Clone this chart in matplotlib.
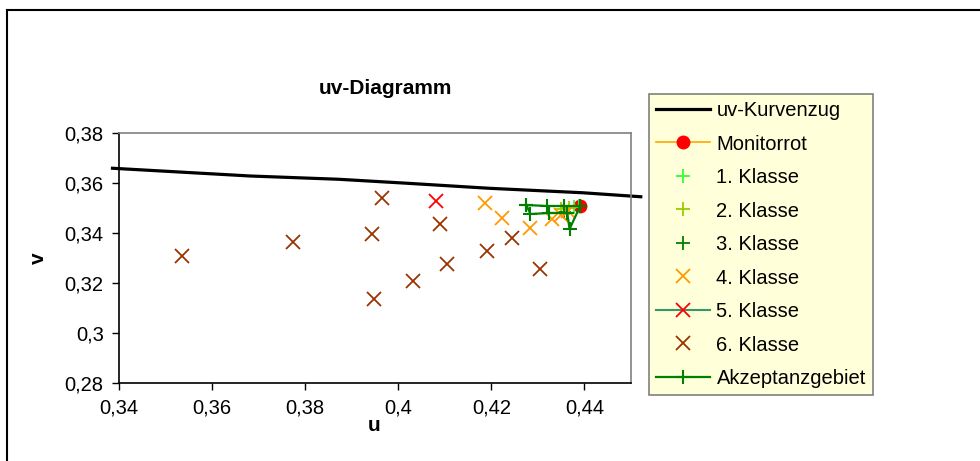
import matplotlib
matplotlib.use("Agg")
import matplotlib.pyplot as plt
from matplotlib.lines import Line2D

plt.rcParams['font.family'] = ['Liberation Sans', 'DejaVu Sans']

# uv-Kurvenzug
kurve_u = [0.3386, 0.3682, 0.3871, 0.4019, 0.4194, 0.4396, 0.4521]
kurve_v = [0.3659, 0.3628, 0.3615, 0.3599, 0.3579, 0.3561, 0.3545]

monitor_u = [0.4391]
monitor_v = [0.3508]

k1_u = [0.4378, 0.4389]
k1_v = [0.3504, 0.3508]
k2_u = [0.4366, 0.4350]
k2_v = [0.3500, 0.3496]
k3_u = [0.4355, 0.4368]
k3_v = [0.3484, 0.3416]
k4_u = [0.4187, 0.4223, 0.4284, 0.4331, 0.4350, 0.4365]
k4_v = [0.3520, 0.3460, 0.3420, 0.3456, 0.3472, 0.3488]
k5_u = [0.4081]
k5_v = [0.3528]
k6_u = [0.3536, 0.3773, 0.3943, 0.3947, 0.3965, 0.4031, 0.4090, 0.4105, 0.4190, 0.4245, 0.4305]
k6_v = [0.3308, 0.3364, 0.3396, 0.3136, 0.3540, 0.3208, 0.3436, 0.3276, 0.3330, 0.3380, 0.3256]

akz_u = [0.4275, 0.4320, 0.4357, 0.4391, 0.4368, 0.4363, 0.4324, 0.4284, 0.4275]
akz_v = [0.3512, 0.3508, 0.3508, 0.3508, 0.3416, 0.3480, 0.3480, 0.3476, 0.3512]

x_ticks = [0.34, 0.36, 0.38, 0.40, 0.42, 0.44]
x_labels = ['0,34', '0,36', '0,38', '0,4', '0,42', '0,44']
y_ticks = [0.28, 0.30, 0.32, 0.34, 0.36, 0.38]
y_labels = ['0,28', '0,3', '0,32', '0,34', '0,36', '0,38']

fig = plt.figure(figsize=(9.8, 4.61), dpi=100)
ax = fig.add_axes([119 / 980, 78 / 461, 512 / 980, 250 / 461])

h0, = ax.plot(kurve_u, kurve_v, color='black', lw=2.3, clip_on=False, label='uv-Kurvenzug')
h1, = ax.plot(monitor_u, monitor_v, color='#FFA500', lw=1.2, marker='o', ms=9,
              mfc='red', mec='red', label='Monitorrot')
h2, = ax.plot(k1_u, k1_v, ls='none', marker='+', ms=10, mew=1.3, color='#33FF33', label='1. Klasse')
h3, = ax.plot(k2_u, k2_v, ls='none', marker='+', ms=10, mew=1.3, color='#99CC00', label='2. Klasse')
h4, = ax.plot(k3_u, k3_v, ls='none', marker='+', ms=10, mew=1.3, color='#008000', label='3. Klasse')
h5, = ax.plot(k4_u, k4_v, ls='none', marker='x', ms=10, mew=1.3, color='#FF9900', label='4. Klasse')
h6, = ax.plot(k5_u, k5_v, color='#339966', lw=1.5, marker='x', ms=10, mew=1.3,
              mec='red', label='5. Klasse')
h7, = ax.plot(k6_u, k6_v, ls='none', marker='x', ms=10, mew=1.3, color='#993300', label='6. Klasse')
h8, = ax.plot(akz_u, akz_v, color='#008000', lw=1.6, marker='+', ms=10, mew=1.5,
              label='Akzeptanzgebiet')

ax.set_xlim(0.34, 0.45)
ax.set_ylim(0.28, 0.38)
ax.set_xticks(x_ticks)
ax.set_xticklabels(x_labels)
ax.set_yticks(y_ticks)
ax.set_yticklabels(y_labels)
ax.tick_params(axis='both', direction='out', length=5, width=1, labelsize=14.5, pad=6, color='black')

for s in ['left', 'bottom']:
    ax.spines[s].set_color('black')
    ax.spines[s].set_linewidth(1.2)
for s in ['top', 'right']:
    ax.spines[s].set_color('#808080')
    ax.spines[s].set_linewidth(1.2)

fig.text(385 / 980, 1 - 88 / 461, 'uv-Diagramm', ha='center', va='center',
         fontsize=15, fontweight='bold')
fig.text(38 / 980, 1 - 258 / 461, 'v', ha='center', va='center',
         fontsize=15, fontweight='bold', rotation=90)
fig.text(374 / 980, 1 - 425 / 461, 'u', ha='center', va='center',
         fontsize=15, fontweight='bold')

leg = ax.legend(handles=[h0, h1, h2, h3, h4, h5, h6, h7, h8],
                loc='upper left', bbox_to_anchor=(649 / 980, 1 - 94 / 461),
                bbox_transform=fig.transFigure, fontsize=14.5, frameon=True,
                fancybox=False, borderaxespad=0, borderpad=0.35,
                handlelength=2.7, handletextpad=0.3, labelspacing=0.72)
leg.get_frame().set_facecolor('#FFFFD9')
leg.get_frame().set_edgecolor('#808080')
leg.get_frame().set_linewidth(1.2)
leg.get_frame().set_alpha(1)

# outer chart border
fig.add_artist(Line2D([7 / 980, 7 / 980], [0, 1 - 10 / 461], color='black', lw=1.5,
                      transform=fig.transFigure))
fig.add_artist(Line2D([7 / 980, 1], [1 - 10 / 461, 1 - 10 / 461], color='black', lw=1.5,
                      transform=fig.transFigure))

fig.savefig('out.png', dpi=100)
